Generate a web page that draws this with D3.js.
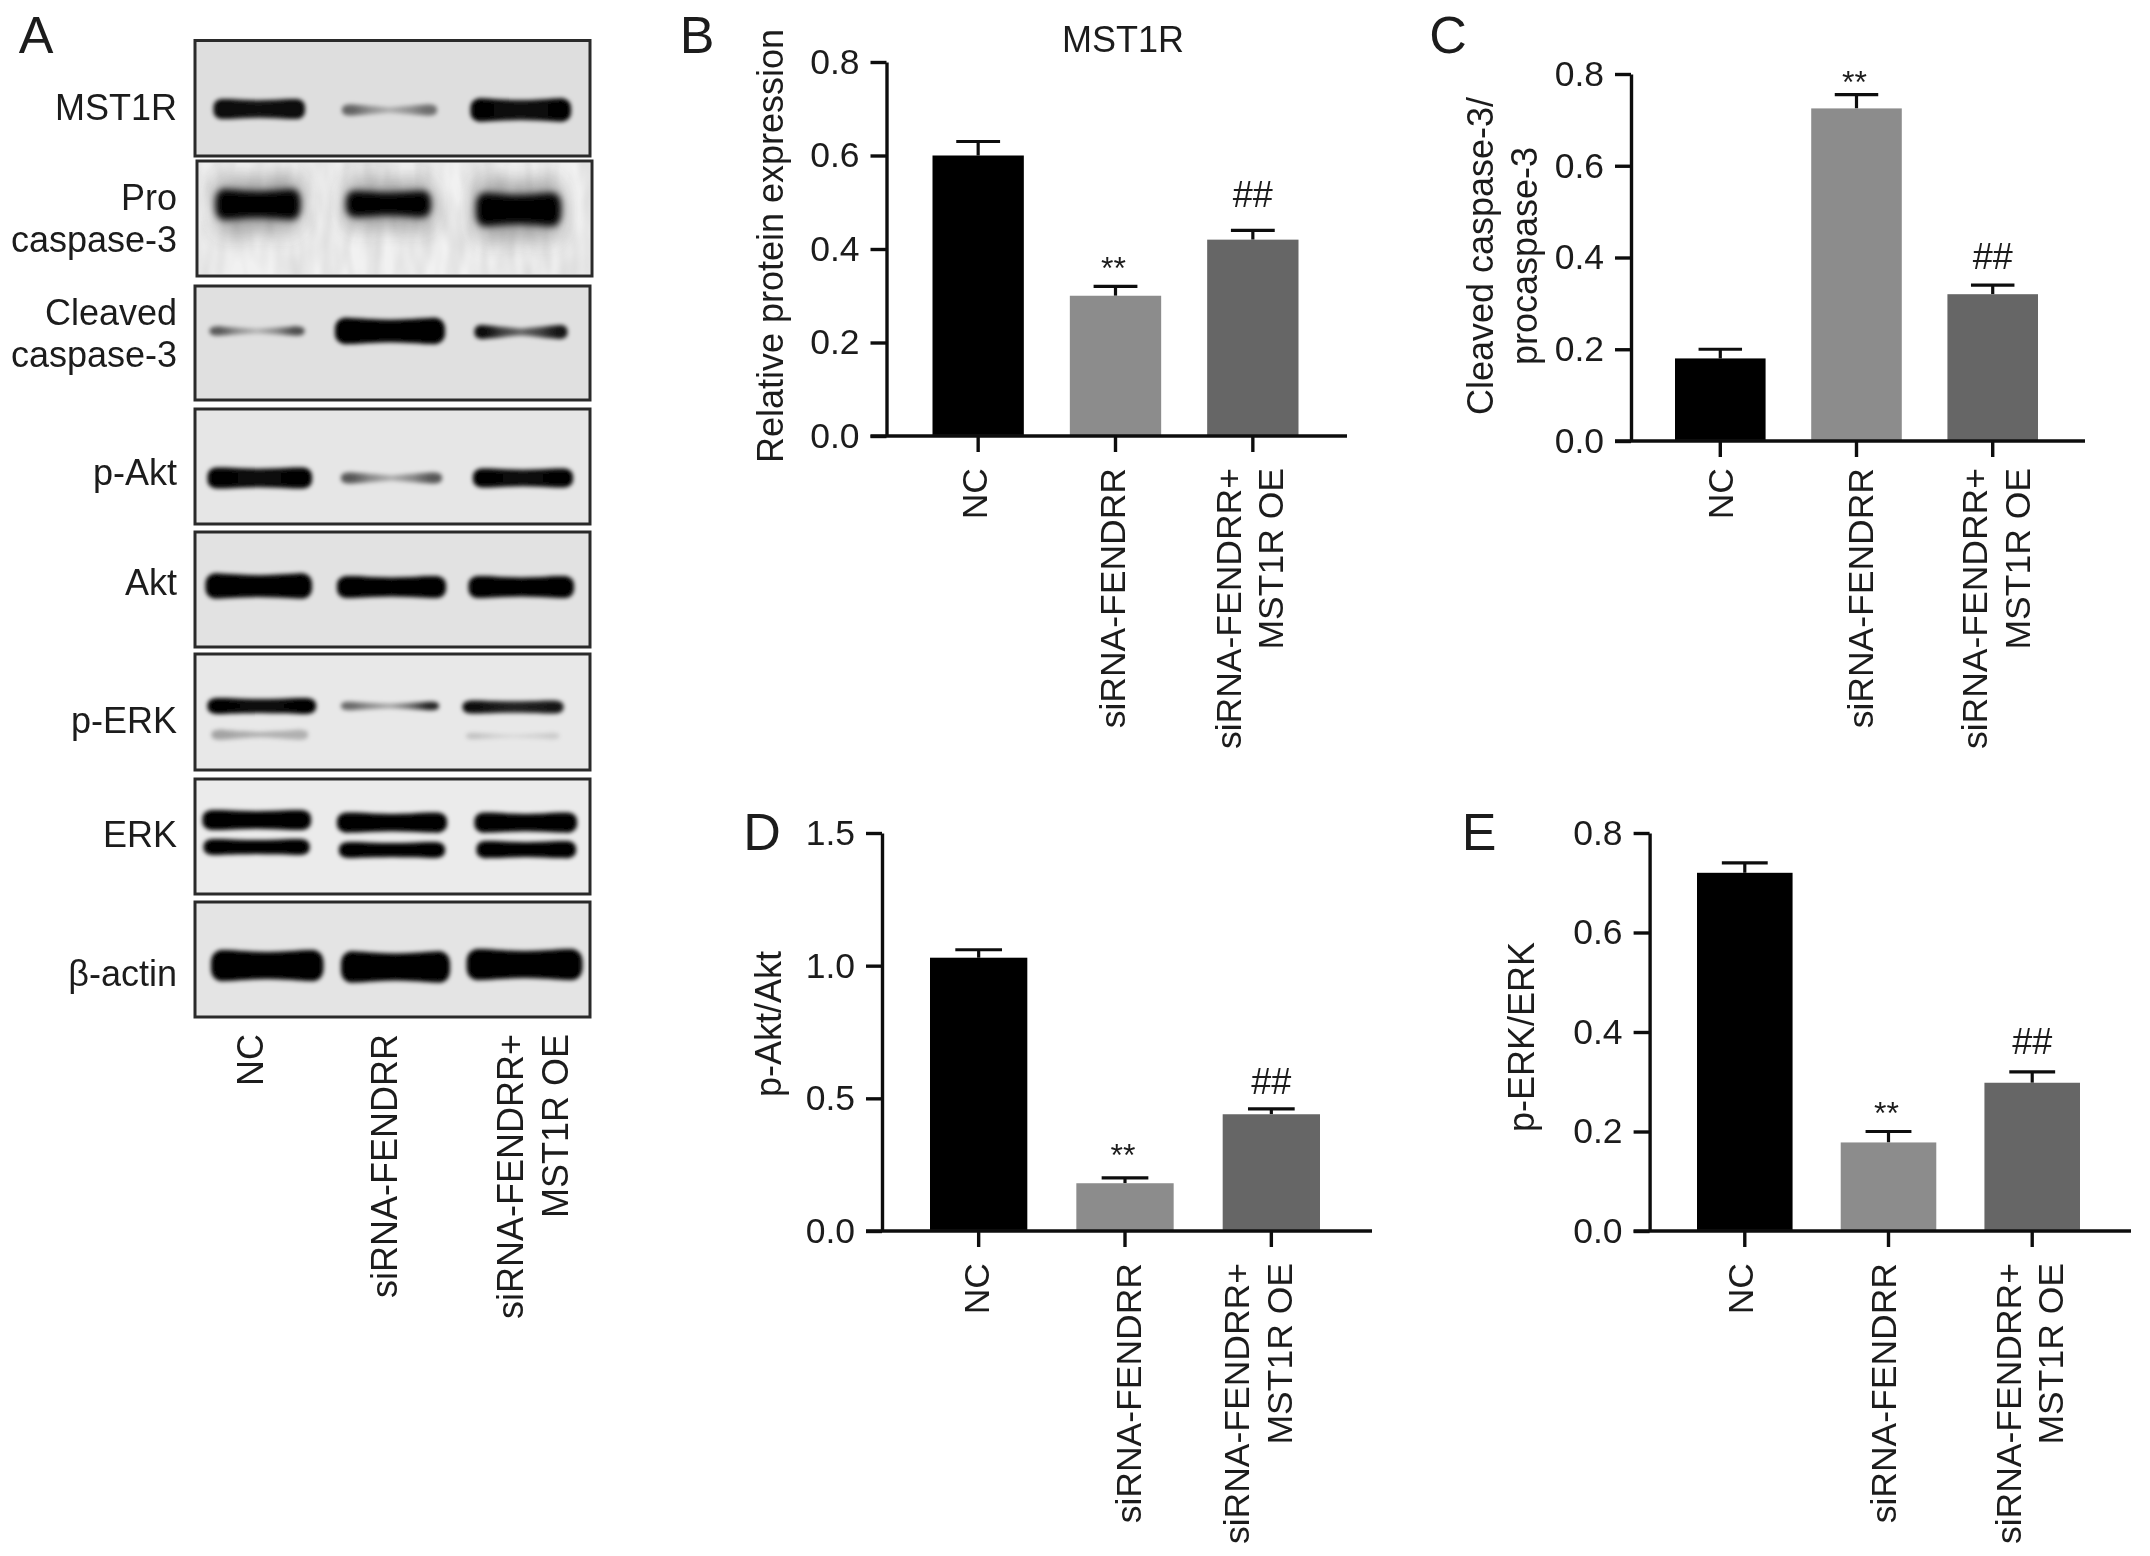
<!DOCTYPE html>
<html><head><meta charset="utf-8">
<script src="https://cdn.jsdelivr.net/npm/d3@7/dist/d3.min.js"></script>
<style>html,body{margin:0;padding:0;background:#fff}svg{display:block}
text{font-family:"Liberation Sans",Arial,sans-serif;fill:#1c1c1c}</style></head>
<body><svg id="c" width="2150" height="1556" viewBox="0 0 2150 1556"></svg>
<script>
// ---------- chart values ----------
const categories = ["NC", "siRNA-FENDRR", "siRNA-FENDRR+|MST1R OE"];
const barColors = ["#000000", "#8c8c8c", "#666666"];
const sigLabels = ["", "**", "##"];
const mst1rValues = [0.60, 0.30, 0.42];
const mst1rTops = [0.63, 0.32, 0.44];
const caspaseValues = [0.18, 0.725, 0.32];
const caspaseTops = [0.20, 0.755, 0.34];
const aktValues = [1.03, 0.18, 0.44];
const aktTops = [1.06, 0.20, 0.46];
const erkValues = [0.72, 0.178, 0.298];
const erkTops = [0.74, 0.20, 0.32];
const ticks08 = [0, 0.2, 0.4, 0.6, 0.8];
const ticks15 = [0, 0.5, 1.0, 1.5];
const blotNames = ["MST1R", "Pro|caspase-3", "Cleaved|caspase-3", "p-Akt", "Akt", "p-ERK", "ERK", "β-actin"];
// band darkness per lane: [left end, middle, right end]
const mst1rBlot = [[.95,.92,.95],[.55,.22,.5],[1,.92,1]];
const proBlot = [[1,1,1],[1,1,1],[1,1,1]];
const cleavedBlot = [[.6,.2,.65],[1,1,1],[.95,.55,.9]];
const pAktBlot = [[1,.95,1],[.62,.25,.62],[1,.95,1]];
const aktBlot = [[1,1,1],[1,1,1],[1,1,1]];
const pErkUpper = [[1,.95,1],[.55,.3,.85],[.95,.85,.9]];
const pErkLower = [[.3,.24,.24],[0,0,0],[.16,.07,.12]];
const erkUpper = [[1,1,1],[1,1,1],[1,1,1]];
const erkLower = [[1,1,1],[1,1,1],[1,1,1]];
const actinBlot = [[1,1,1],[1,1,1],[1,1,1]];

// ---------- layout (pixels) ----------
const blotLayout = [
 {x0:195,x1:590,y0:40.5,y1:156,bg:"#dedede",lab:[107.5],bands:[
   {d:mst1rBlot,g:[[213.5,305,109,20],[342,437,110,12],[470.5,571,110,23]]}]},
 {x0:197,x1:592,y0:161,y1:276,bg:"#f1f1f1",lab:[197,239],haze:true,bands:[
   {d:proBlot,g:[[215.5,300.5,204.5,30],[346,431,204,26],[476,561,209.6,33]]}]},
 {x0:195,x1:590,y0:286,y1:400,bg:"#e0e0e0",lab:[312,354],bands:[
   {d:cleavedBlot,g:[[209.5,304.5,331,10],[335,445,331,26],[474.5,567.5,332,15]]}]},
 {x0:195,x1:590,y0:409,y1:524,bg:"#e6e6e6",lab:[472],bands:[
   {d:pAktBlot,g:[[207.5,312,478,21],[341,442,478,12],[473,573,478,19]]}]},
 {x0:195,x1:590,y0:532,y1:647,bg:"#e2e2e2",lab:[582],bands:[
   {d:aktBlot,g:[[205.5,312,586,25],[337,446,587,22],[468.5,574,587,22]]}]},
 {x0:195,x1:590,y0:654,y1:770,bg:"#e8e8e8",lab:[720],bands:[
   {d:pErkUpper,g:[[207.5,316,706,16],[341,439,706,9],[462.6,563.5,707,13]]},
   {d:pErkLower,g:[[211.5,308,734.7,11],[345,430,735,6],[466,559.5,736,7]]}]},
 {x0:195,x1:590,y0:779,y1:894,bg:"#ebebeb",lab:[834],bands:[
   {d:erkUpper,g:[[202.5,311,820,20],[337,447,822.6,20],[474.5,577,822.6,20]]},
   {d:erkLower,g:[[203.6,309.6,847,16],[339,445,850,16],[476.5,576,849.6,17]]}]},
 {x0:195,x1:590,y0:902,y1:1017,bg:"#e4e4e4",lab:[973.5],bands:[
   {d:actinBlot,g:[[211,323.5,965.6,31],[341,450,967,31],[466.6,582.5,964.6,31]]}]}
];
const blotLabelRight = 177, fs = 35.5, fsA = 36;
const blotCatX = [[250],[384],[510,555]], blotCatTop = 1034;

const panels = [
 {id:"B",lx:697,ly:34,ax:886.5,y0:436,y1:62,end:1347,r:[932.5,1298.5],dom:0.8,ticks:ticks08,vals:mst1rValues,tops:mst1rTops,
  ylab:["Relative protein expression"],ylx:[770],yly:246,catTop:468,catX:[[974.5],[1112],[1228,1270]],sig:[0,7,23],title:"MST1R",tx:1123,ty:39},
 {id:"C",lx:1448,ly:34,ax:1631,y0:441,y1:74,end:2085,r:[1675,2038],dom:0.8,ticks:ticks08,vals:caspaseValues,tops:caspaseTops,
  ylab:["Cleaved caspase-3/","procaspase-3"],ylx:[1480.5,1524],yly:256,catTop:468,catX:[[1720],[1860],[1974,2017]],sig:[0,2,16]},
 {id:"D",lx:762,ly:831.5,ax:882,y0:1231,y1:833,end:1372,r:[930,1320],dom:1.5,ticks:ticks15,vals:aktValues,tops:aktTops,
  ylab:["p-Akt/Akt"],ylx:[768],yly:1024,catTop:1263,catX:[[976],[1128],[1236,1279]],sig:[0,12,15]},
 {id:"E",lx:1479,ly:831,ax:1649.6,y0:1231,y1:833,end:2131,r:[1697,2080],dom:0.8,ticks:ticks08,vals:erkValues,tops:erkTops,
  ylab:["p-ERK/ERK"],ylx:[1521],yly:1037,catTop:1263,catX:[[1740],[1883],[2008,2050]],sig:[0,8,18]}
];

// ---------- drawing ----------
const svg = d3.select("#c");
const defs = svg.append("defs");
const blur = (id,s)=>defs.append("filter").attr("id",id).attr("x","-30%").attr("y","-150%").attr("width","160%").attr("height","400%")
  .append("feGaussianBlur").attr("stdDeviation",s);
blur("soft",.55); blur("bandBlur",2.1); blur("bandBlurPro",3.6); blur("hazeBlur",10);
const noise = defs.append("filter").attr("id","grain").attr("x",0).attr("y",0).attr("width","100%").attr("height","100%");
noise.append("feTurbulence").attr("type","fractalNoise").attr("baseFrequency","0.06 0.02").attr("numOctaves",2).attr("seed",4);
noise.append("feColorMatrix").attr("values","0 0 0 0 0  0 0 0 0 0  0 0 0 0 0  .16 0 0 0 -.045");

const root = svg.append("g").attr("filter","url(#soft)");
root.append("rect").attr("width",2150).attr("height",1556).attr("fill","#fff");

const gA = root.append("g");
gA.append("text").attr("x",36).attr("y",53).attr("text-anchor","middle").attr("font-size",52).text("A");

// profile of a band across its width: position, relative thickness
const prof = [[0,.3],[.02,.72],[.07,.98],[.14,1],[.32,.92],[.5,.87],[.68,.92],[.86,1],[.93,.98],[.98,.72],[1,.3]];
const bandShape = d3.area().curve(d3.curveCatmullRom).x(d=>d.x).y0(d=>d.c-d.h/2).y1(d=>d.c+d.h/2);

blotLayout.forEach((p,bi)=>{
  const g = gA.append("g");
  g.append("rect").attr("x",p.x0).attr("y",p.y0).attr("width",p.x1-p.x0).attr("height",p.y1-p.y0)
    .attr("fill",p.bg).attr("stroke","#2b2b2b").attr("stroke-width",3);
  if(p.haze) g.append("rect").attr("x",p.x0+2).attr("y",p.y0+2).attr("width",p.x1-p.x0-4).attr("height",p.y1-p.y0-4).attr("filter","url(#grain)");
  const clipId="clip"+bi;
  defs.append("clipPath").attr("id",clipId).append("rect").attr("x",p.x0+2).attr("y",p.y0+2).attr("width",p.x1-p.x0-4).attr("height",p.y1-p.y0-4);
  const inner = g.append("g").attr("clip-path",`url(#${clipId})`);
  p.bands.forEach((b,bb)=>{
    b.d.forEach((lev,li)=>{
      const [xa,xb,c,h] = b.g[li];
      if(lev[1]===0) return;
      const sc = d3.scaleLinear().domain([0,.5,1]).range(lev);
      const gid=`g${bi}_${bb}_${li}`;
      const lg = defs.append("linearGradient").attr("id",gid);
      [0,.12,.3,.5,.7,.88,1].forEach(t=>lg.append("stop").attr("offset",t).attr("stop-color","#060606")
        .attr("stop-opacity",t<.15||t>.85?sc(t<.5?0:1):sc(t)));
      const faint = lev[1]<.6;
      const pts = prof.map(([t,k])=>({x:xa+t*(xb-xa),c,h:h*k*(faint?(.55+.9*Math.abs(t-.5)):1)}));
      if(p.haze) inner.append("path").attr("d",bandShape(pts.map(d=>({...d,h:d.h*1.9})))).attr("fill","#333").attr("opacity",.4).attr("filter","url(#hazeBlur)");
      inner.append("path").attr("d",bandShape(pts)).attr("fill",`url(#${gid})`).attr("filter",p.haze?"url(#bandBlurPro)":"url(#bandBlur)");
    });
  });
  blotNames[bi].split("|").forEach((t,i)=>{
    g.append("text").attr("x",blotLabelRight).attr("y",p.lab[i]).attr("dy",".36em").attr("text-anchor","end").attr("font-size",fsA).text(t);
  });
});
categories.forEach((c,i)=>c.split("|").forEach((t,j)=>{
  gA.append("text").attr("transform",`translate(${blotCatX[i][j]},${blotCatTop}) rotate(-90)`).attr("dy",".36em")
    .attr("text-anchor","end").attr("font-size",fsA).text(t);
}));

panels.forEach(p=>{
  const g = root.append("g");
  const y = d3.scaleLinear().domain([0,p.dom]).range([p.y0,p.y1]);
  const x = d3.scaleBand().domain(categories).range(p.r).paddingInner(.335).paddingOuter(0);
  const capW = x.bandwidth()*.48;
  g.append("text").attr("x",p.lx).attr("y",p.ly).attr("dy",".36em").attr("text-anchor","middle").attr("font-size",52).text(p.id);
  if(p.title) g.append("text").attr("x",p.tx).attr("y",p.ty).attr("dy",".36em").attr("text-anchor","middle").attr("font-size",36).text(p.title);

  categories.forEach((c,i)=>{
    const cx = x(c)+x.bandwidth()/2;
    g.append("line").attr("x1",cx).attr("x2",cx).attr("y1",y(p.vals[i])).attr("y2",y(p.tops[i])).attr("stroke","#111").attr("stroke-width",3.2);
    g.append("line").attr("x1",cx-capW/2).attr("x2",cx+capW/2).attr("y1",y(p.tops[i])).attr("y2",y(p.tops[i])).attr("stroke","#111").attr("stroke-width",3.2);
    g.append("rect").attr("x",x(c)).attr("y",y(p.vals[i])).attr("width",x.bandwidth()).attr("height",y(0)-y(p.vals[i])).attr("fill",barColors[i]);
    if(sigLabels[i]) g.append("text").attr("x",cx-(sigLabels[i]==="**"?2:0)).attr("y",y(p.tops[i])-p.sig[i]).attr("text-anchor","middle")
      .attr("font-size",sigLabels[i]==="**"?32:36).text(sigLabels[i]);
    c.split("|").forEach((t,j)=>{
      g.append("text").attr("transform",`translate(${p.catX[i][j]},${p.catTop}) rotate(-90)`).attr("dy",".36em")
        .attr("text-anchor","end").attr("font-size",fs).text(t);
    });
  });

  const ay = g.append("g").attr("transform",`translate(${p.ax},0)`)
    .call(d3.axisLeft(y).tickValues(p.ticks).tickFormat(d3.format(".1f")).tickSize(16).tickSizeOuter(0).tickPadding(11));
  ay.selectAll("path,line").attr("stroke","#111").attr("stroke-width",3.4);
  ay.selectAll("text").attr("font-size",fs).attr("font-family",'"Liberation Sans",Arial,sans-serif').attr("fill","#1c1c1c");

  const ax = g.append("g").attr("transform",`translate(0,${p.y0})`)
    .call(d3.axisBottom(x).tickSize(16).tickSizeOuter(0).tickFormat(""));
  ax.select("path").remove();
  ax.selectAll("line").attr("stroke","#111").attr("stroke-width",3.4);
  g.append("line").attr("x1",p.ax-16).attr("x2",p.end).attr("y1",p.y0).attr("y2",p.y0).attr("stroke","#111").attr("stroke-width",3.6);

  p.ylab.forEach((t,i)=>{
    g.append("text").attr("transform",`translate(${p.ylx[i]},${p.yly}) rotate(-90)`).attr("dy",".36em")
      .attr("text-anchor","middle").attr("font-size",36).text(t);
  });
});
</script></body></html>
